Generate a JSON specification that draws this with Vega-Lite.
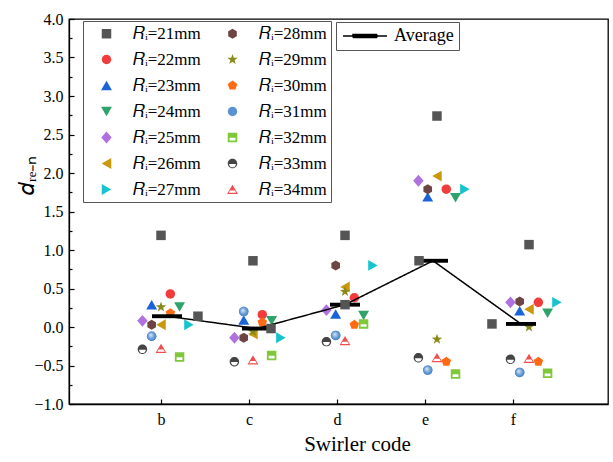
{
  "$schema": "https://vega.github.io/schema/vega-lite/v6.json",
  "width": 539,
  "height": 385,
  "autosize": "none",
  "padding": {"left": 69, "top": 19, "right": 5, "bottom": 58},
  "background": "#ffffff",
  "config": {
    "view": {"stroke": "#000000", "strokeWidth": 1.3},
    "font": "Liberation Serif",
    "axis": {
      "labelFont": "Liberation Serif",
      "titleFont": "Liberation Serif",
      "labelColor": "#000000",
      "titleColor": "#000000",
      "tickColor": "#000000",
      "domainColor": "#000000",
      "domainWidth": 1.3,
      "tickWidth": 1.2,
      "grid": false,
      "labelFontSize": 16,
      "titleFontWeight": "normal"
    },
    "legend": {
      "labelFont": "Liberation Serif",
      "labelColor": "#000000",
      "labelFontSize": 17,
      "strokeColor": "#555555",
      "fillColor": "#ffffff"
    }
  },
  "datasets": {
    "pts": [
      {"Ri": 21, "x": 1.0, "y": 1.19}, {"Ri": 22, "x": 1.106, "y": 0.43}, {"Ri": 23, "x": 0.894, "y": 0.29},
      {"Ri": 24, "x": 1.211, "y": 0.26}, {"Ri": 25, "x": 0.789, "y": 0.08}, {"Ri": 26, "x": 1.0, "y": 0.03},
      {"Ri": 27, "x": 1.317, "y": 0.03}, {"Ri": 28, "x": 0.894, "y": 0.03}, {"Ri": 29, "x": 1.0, "y": 0.26},
      {"Ri": 30, "x": 1.106, "y": 0.18}, {"Ri": 31, "x": 0.894, "y": -0.12}, {"Ri": 32, "x": 1.211, "y": -0.39},
      {"Ri": 33, "x": 0.789, "y": -0.29}, {"Ri": 34, "x": 1.0, "y": -0.28},

      {"Ri": 21, "x": 2.045, "y": 0.86}, {"Ri": 22, "x": 2.151, "y": 0.16}, {"Ri": 23, "x": 1.94, "y": 0.09},
      {"Ri": 24, "x": 2.257, "y": 0.08}, {"Ri": 25, "x": 1.834, "y": -0.14}, {"Ri": 26, "x": 2.045, "y": -0.09},
      {"Ri": 27, "x": 2.362, "y": -0.14}, {"Ri": 28, "x": 1.94, "y": -0.14}, {"Ri": 29, "x": 2.045, "y": -0.06},
      {"Ri": 30, "x": 2.151, "y": 0.06}, {"Ri": 31, "x": 1.94, "y": 0.2}, {"Ri": 32, "x": 2.257, "y": -0.37},
      {"Ri": 33, "x": 1.834, "y": -0.45}, {"Ri": 34, "x": 2.045, "y": -0.43},

      {"Ri": 21, "x": 3.091, "y": 1.19}, {"Ri": 22, "x": 3.197, "y": 0.38}, {"Ri": 23, "x": 2.985, "y": 0.17},
      {"Ri": 24, "x": 3.302, "y": 0.15}, {"Ri": 25, "x": 2.88, "y": 0.22}, {"Ri": 26, "x": 3.091, "y": 0.52},
      {"Ri": 27, "x": 3.408, "y": 0.8}, {"Ri": 28, "x": 2.985, "y": 0.8}, {"Ri": 29, "x": 3.091, "y": 0.46},
      {"Ri": 30, "x": 3.197, "y": 0.03}, {"Ri": 31, "x": 2.985, "y": -0.11}, {"Ri": 32, "x": 3.302, "y": 0.04},
      {"Ri": 33, "x": 2.88, "y": -0.19}, {"Ri": 34, "x": 3.091, "y": -0.18},

      {"Ri": 21, "x": 4.136, "y": 2.74}, {"Ri": 22, "x": 4.242, "y": 1.79}, {"Ri": 23, "x": 4.031, "y": 1.69},
      {"Ri": 24, "x": 4.347, "y": 1.68}, {"Ri": 25, "x": 3.925, "y": 1.9}, {"Ri": 26, "x": 4.136, "y": 1.96},
      {"Ri": 27, "x": 4.453, "y": 1.79}, {"Ri": 28, "x": 4.031, "y": 1.79}, {"Ri": 29, "x": 4.136, "y": -0.16},
      {"Ri": 30, "x": 4.242, "y": -0.45}, {"Ri": 31, "x": 4.031, "y": -0.56}, {"Ri": 32, "x": 4.347, "y": -0.61},
      {"Ri": 33, "x": 3.925, "y": -0.4}, {"Ri": 34, "x": 4.136, "y": -0.4},

      {"Ri": 21, "x": 5.182, "y": 1.07}, {"Ri": 22, "x": 5.288, "y": 0.32}, {"Ri": 23, "x": 5.076, "y": 0.21},
      {"Ri": 24, "x": 5.393, "y": 0.18}, {"Ri": 25, "x": 4.971, "y": 0.32}, {"Ri": 26, "x": 5.182, "y": 0.23},
      {"Ri": 27, "x": 5.499, "y": 0.32}, {"Ri": 28, "x": 5.076, "y": 0.33}, {"Ri": 29, "x": 5.182, "y": 0.0},
      {"Ri": 30, "x": 5.288, "y": -0.45}, {"Ri": 31, "x": 5.076, "y": -0.59}, {"Ri": 32, "x": 5.393, "y": -0.6},
      {"Ri": 33, "x": 4.971, "y": -0.42}, {"Ri": 34, "x": 5.182, "y": -0.41}
    ],
    "avg": [
      {"label": "Average", "x": 1.068, "y": 0.14},
      {"label": "Average", "x": 2.091, "y": -0.02},
      {"label": "Average", "x": 3.091, "y": 0.29},
      {"label": "Average", "x": 4.091, "y": 0.86},
      {"label": "Average", "x": 5.091, "y": 0.04}
    ],
    "marks": [
      {"x": 1.42, "y": 0.14},
      {"x": 2.25, "y": -0.02},
      {"x": 3.091, "y": 0.29},
      {"x": 3.932, "y": 0.86},
      {"x": 4.761, "y": 0.04}
    ]
  },
  "resolve": {"axis": {"y": "independent"}},
  "layer": [
    {
      "data": {"name": "pts"},
      "mark": {"type": "point", "filled": true, "opacity": 1, "size": 90, "strokeWidth": 0},
      "encoding": {
        "x": {
          "field": "x", "type": "quantitative",
          "scale": {"domain": [-0.0455, 6.0795], "nice": false, "zero": false},
          "axis": {
            "values": [1, 2, 3, 4, 5],
            "labelExpr": "['', 'b', 'c', 'd', 'e', 'f'][datum.value]",
            "tickSize": -5,
            "labelPadding": 12,
            "title": "Swirler code",
            "titleFontSize": 21,
            "titleAlign": "center",
            "titleBaseline": "top",
            "titleX": 288,
            "titleY": 29
          }
        },
        "y": {
          "field": "y", "type": "quantitative",
          "scale": {"domain": [-1, 4], "nice": false, "zero": false},
          "axis": {
            "orient": "left",
            "values": [-1, -0.5, 0, 0.5, 1, 1.5, 2, 2.5, 3, 3.5, 4],
            "format": ".1f",
            "tickSize": -5,
            "labelPadding": 11,
            "title": "𝑑ᵣₑ₋ₙ",
            "titleFontSize": 22,
            "titleAngle": -90,
            "titleAlign": "center",
            "titleBaseline": "alphabetic",
            "titleX": -36,
            "titleY": 156
          }
        },
        "color": {
          "field": "Ri", "type": "nominal",
          "scale": {
            "domain": [21, 22, 23, 24, 25, 26, 27, 28, 29, 30, 31, 32, 33, 34],
            "range": ["#555555", "#f23b3b", "#1a63d8", "#2fa36b", "#b071e0", "#c9980c", "#18c3d0", "#6e4545", "#8a8a1a", "#ff6a12", "#5b93d2", "#7ec83a", "#444444", "#f24d4d"]
          },
          "legend": {
            "title": null,
            "orient": "none",
            "legendX": 14,
            "legendY": 2,
            "columns": 2,
            "padding": 4,
            "symbolOffset": 11,
            "symbolSize": 90,
            "symbolStrokeWidth": 0,
            "labelOffset": 18,
            "rowPadding": 8,
            "columnPadding": 12,
            "labelExpr": "'𝑅ᵢ=' + datum.label + 'mm'"
          }
        },
        "shape": {
          "field": "Ri", "type": "nominal",
          "scale": {
            "domain": [21, 22, 23, 24, 25, 26, 27, 28, 29, 30, 31, 32, 33, 34],
            "range": [
              "square",
              "circle",
              "M 0 -1 L 1.15 1 L -1.15 1 Z",
              "M 0 1 L 1.15 -1 L -1.15 -1 Z",
              "M 0 -1.25 L 1.1 0 L 0 1.25 L -1.1 0 Z",
              "M -1 0 L 1 -1.15 L 1 1.15 Z",
              "M 1 0 L -1 -1.15 L -1 1.15 Z",
              "M 0 -1.05 L 0.91 -0.525 L 0.91 0.525 L 0 1.05 L -0.91 0.525 L -0.91 -0.525 Z",
              "M 0 -1.15 L 0.27 -0.373 L 1.094 -0.355 L 0.437 0.143 L 0.676 0.93 L 0 0.46 L -0.676 0.93 L -0.437 0.143 L -1.094 -0.355 L -0.27 -0.373 Z",
              "M 0 -1.05 L 0.999 -0.324 L 0.617 0.849 L -0.617 0.849 L -0.999 -0.324 Z",
              "circle",
              "M -1 -1 H 1 V 1 H -1 Z M -0.62 0.05 V 0.62 H 0.62 V 0.05 Z",
              "M -1 0 A 1 1 0 1 1 1 0 A 1 1 0 1 1 -1 0 Z M -0.72 0.08 A 0.72 0.72 0 0 0 0.72 0.08 Z",
              "M 0 -1 L 1.15 0.95 L -1.15 0.95 Z M -0.5 0.2 L -0.8 0.66 L 0.8 0.66 L 0.5 0.2 Z"
            ]
          }
        }
      }
    },
    {
      "data": {"name": "pts"},
      "transform": [{"filter": "datum.Ri == 31"}],
      "mark": {
        "type": "point", "shape": "circle", "filled": true, "opacity": 1, "size": 90, "strokeWidth": 0,
        "fill": {
          "gradient": "radial", "x1": 0.38, "y1": 0.35, "r1": 0, "x2": 0.5, "y2": 0.5, "r2": 0.6,
          "stops": [{"offset": 0, "color": "#e2eefa"}, {"offset": 0.55, "color": "#6a9fd8"}, {"offset": 1, "color": "#3c74ba"}]
        }
      },
      "encoding": {
        "x": {"field": "x", "type": "quantitative"},
        "y": {"field": "y", "type": "quantitative", "axis": null}
      }
    },
    {
      "data": {"name": "avg"},
      "mark": {"type": "line", "color": "#000000", "strokeWidth": 1.5},
      "encoding": {
        "x": {"field": "x", "type": "quantitative"},
        "y": {
          "field": "y", "type": "quantitative",
          "axis": {
            "orient": "left",
            "values": [-0.75, -0.25, 0.25, 0.75, 1.25, 1.75, 2.25, 2.75, 3.25, 3.75],
            "labels": false,
            "domain": false,
            "tickSize": -3,
            "title": null
          }
        },
        "strokeDash": {
          "field": "label", "type": "nominal",
          "scale": {"domain": ["Average"], "range": [[1, 0]]},
          "legend": {
            "title": null,
            "orient": "none",
            "legendX": 267,
            "legendY": 3,
            "padding": 5,
            "labelFontSize": 18,
            "labelOffset": 20,
            "symbolOffset": 15,
            "symbolType": "M -4.4 0 H 4.4 M -2.4 -0.3 H 2.4 V 0.3 H -2.4 Z",
            "symbolSize": 100,
            "symbolStrokeColor": "#000000",
            "symbolFillColor": "#000000",
            "symbolStrokeWidth": 1.5
          }
        }
      }
    },
    {
      "data": {"name": "avg"},
      "mark": {"type": "point", "shape": "M -1 -0.13 H 1 V 0.13 H -1 Z", "filled": true, "color": "#000000", "opacity": 1, "size": 900, "strokeWidth": 0},
      "encoding": {
        "x": {"field": "x", "type": "quantitative"},
        "y": {"field": "y", "type": "quantitative", "axis": null}
      }
    },
    {
      "data": {"name": "marks"},
      "mark": {"type": "point", "shape": "square", "filled": true, "color": "#555555", "opacity": 1, "size": 90, "strokeWidth": 0},
      "encoding": {
        "x": {"field": "x", "type": "quantitative"},
        "y": {"field": "y", "type": "quantitative", "axis": null}
      }
    }
  ]
}
